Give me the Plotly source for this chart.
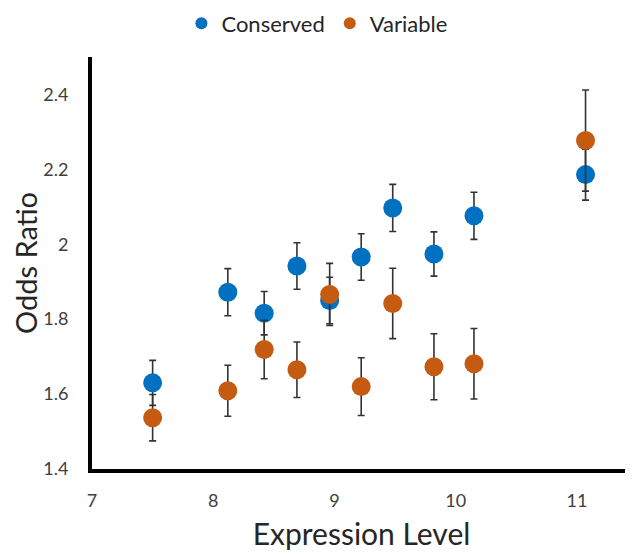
import plotly.graph_objects as go

# expression level bins
expr = [7.50, 8.12, 8.42, 8.69, 8.96, 9.22, 9.48, 9.82, 10.15, 11.07]

conserved = [1.63, 1.872, 1.816, 1.942, 1.85, 1.966, 2.097, 1.974, 2.076, 2.186]
conserved_err = [0.06, 0.063, 0.058, 0.062, 0.062, 0.062, 0.063, 0.059, 0.063, 0.068]

variable = [1.537, 1.609, 1.719, 1.665, 1.866, 1.62, 1.842, 1.673, 1.681, 2.277]
variable_err = [0.062, 0.068, 0.078, 0.074, 0.083, 0.077, 0.094, 0.088, 0.094, 0.135]

y_ticks = [1.4, 1.6, 1.8, 2.0, 2.2, 2.4]
y_labels = ["1.4", "1.6", "1.8", "2", "2.2", "2.4"]
x_ticks = [7, 8, 9, 10, 11]

err_style = dict(type="data", thickness=1.6, width=3.5, color="#333333")

fig = go.Figure()
fig.add_trace(go.Scatter(
    x=expr, y=conserved, mode="markers", name="Conserved",
    marker=dict(size=19, color="#0070C0"),
    error_y=dict(array=conserved_err, **err_style),
))
fig.add_trace(go.Scatter(
    x=expr, y=variable, mode="markers", name="Variable",
    marker=dict(size=19, color="#C55A11"),
    error_y=dict(array=variable_err, **err_style),
))

fig.update_layout(
    width=633, height=554,
    margin=dict(l=84, r=10, t=49, b=93, autoexpand=False),
    plot_bgcolor="white", paper_bgcolor="white",
    font=dict(family="Lato, Open Sans, sans-serif", color="#404040", size=16),
    legend=dict(orientation="h", x=0.488, xref="container", xanchor="center",
                y=0.972, yref="container", yanchor="middle",
                font=dict(size=22, color="#262626"), itemsizing="constant",
                itemwidth=30, bgcolor="rgba(0,0,0,0)"),
)

fig.update_xaxes(
    range=[7, 11.445], tickvals=x_ticks, showgrid=False, zeroline=False,
    showline=True, linecolor="black", linewidth=4, ticks="", automargin=False,
    tickfont=dict(size=18, color="#404040"), ticklabelstandoff=12,
    title=dict(text="Expression Level", font=dict(size=30, color="#262626")),
)
fig.update_yaxes(
    range=[1.4, 2.5], tickvals=y_ticks, ticktext=y_labels, showgrid=False, zeroline=False,
    showline=True, linecolor="black", linewidth=4, ticks="", automargin=False,
    tickfont=dict(size=18, color="#404040"), ticklabelstandoff=16,
    title=dict(text="Odds Ratio", font=dict(size=29, color="#262626")),
)

fig.write_html("out.html")
